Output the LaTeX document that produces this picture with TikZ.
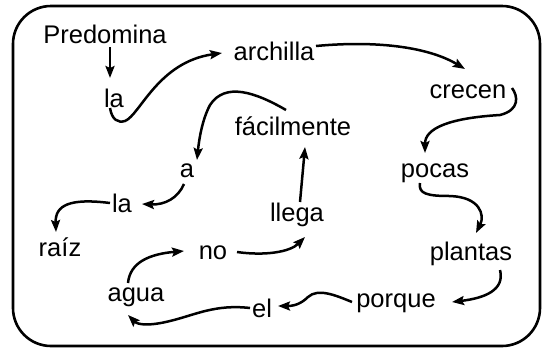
\documentclass[tikz,border=0pt]{standalone}
\usepackage{fontspec}
\setmainfont{Liberation Sans}
\usetikzlibrary{arrows.meta}
\begin{document}
\begin{tikzpicture}[x=1pt,y=-1pt,
  word/.style={anchor=base,inner sep=0pt,font=\fontsize{25.5}{30}\selectfont},
  arr/.style={line width=2.5pt,-{Stealth[length=12pt,width=9pt,inset=2pt]}}]
\useasboundingbox (0,0) rectangle (543,349);
\draw[line width=2.6pt,rounded corners=38pt] (13,6) rectangle (540,346);
\node[word] (pred) at (105,43) {Predomina};
\node[word] (la1) at (114,107) {la};
\node[word] (arch) at (274,60) {archilla};
\node[word] (crec) at (468,98) {crecen};
\node[word] (facil) at (293,135) {fácilmente};
\node[word] (a) at (187,177) {a};
\node[word] (la2) at (122,212) {la};
\node[word] (raiz) at (60,256) {raíz};
\node[word] (no) at (213,259) {no};
\node[word] (llega) at (297,221) {llega};
\node[word] (pocas) at (435,177) {pocas};
\node[word] (plant) at (471,260) {plantas};
\node[word] (porq) at (396,307) {porque};
\node[word] (el) at (262,317) {el};
\node[word] (agua) at (136,301) {agua};
% connectors
\draw[arr] ([shift={(5,4)}]pred.base) -- ([shift={(-4,-29)}]la1.base);
\draw[arr] ([shift={(-4,1)}]la1.base) .. controls (112,120) and (118,123) .. (125,121)
  .. controls (140,115) and (158,62) .. ([shift={(-52,-7)}]arch.base);
\draw[arr] ([shift={(42,-14)}]arch.base) .. controls (380,40) and (430,48) .. ([shift={(-3,-29)}]crec.base);
\draw[arr] ([shift={(44,-10)}]crec.base) .. controls (518,96) and (520,110) .. (500,115)
  .. controls (450,118) and (425,128) .. ([shift={(-10,-24)}]pocas.base);
\draw[arr] ([shift={(-15,6)}]pocas.base) .. controls (418,194) and (428,196) .. (450,196)
  .. controls (480,197) and (485,215) .. ([shift={(5,-27)}]plant.base);
\draw[arr] ([shift={(29,10)}]plant.base) .. controls (505,290) and (485,298) .. ([shift={(56,-5)}]porq.base);
\draw[arr] ([shift={(-44,-5)}]porq.base) .. controls (335,295) and (318,288) .. (308,297)
  .. controls (300,305) and (292,306) .. ([shift={(16,-11)}]el.base);
\draw[arr] ([shift={(-12,-9)}]el.base) .. controls (215,304) and (195,315) .. (170,321)
  .. controls (150,326) and (138,325) .. ([shift={(-8,14)}]agua.base);
\draw[arr] ([shift={(-8,-18)}]agua.base) .. controls (130,262) and (150,254) .. ([shift={(-29,-8)}]no.base);
\draw[arr] ([shift={(24,-7)}]no.base) .. controls (265,256) and (290,252) .. ([shift={(8,16)}]llega.base);
\draw[arr] ([shift={(3,-19)}]llega.base) -- ([shift={(12,12)}]facil.base);
\draw[arr] ([shift={(-7,-25)}]facil.base) .. controls (255,92) and (225,82) .. (210,105)
  .. controls (202,120) and (199,140) .. ([shift={(10,-17)}]a.base);
\draw[arr] ([shift={(-3,7)}]a.base) .. controls (178,198) and (165,205) .. ([shift={(20,-8)}]la2.base);
\draw[arr] ([shift={(-12,-9)}]la2.base) .. controls (70,198) and (55,205) .. ([shift={(-4,-24)}]raiz.base);
\end{tikzpicture}
\end{document}
